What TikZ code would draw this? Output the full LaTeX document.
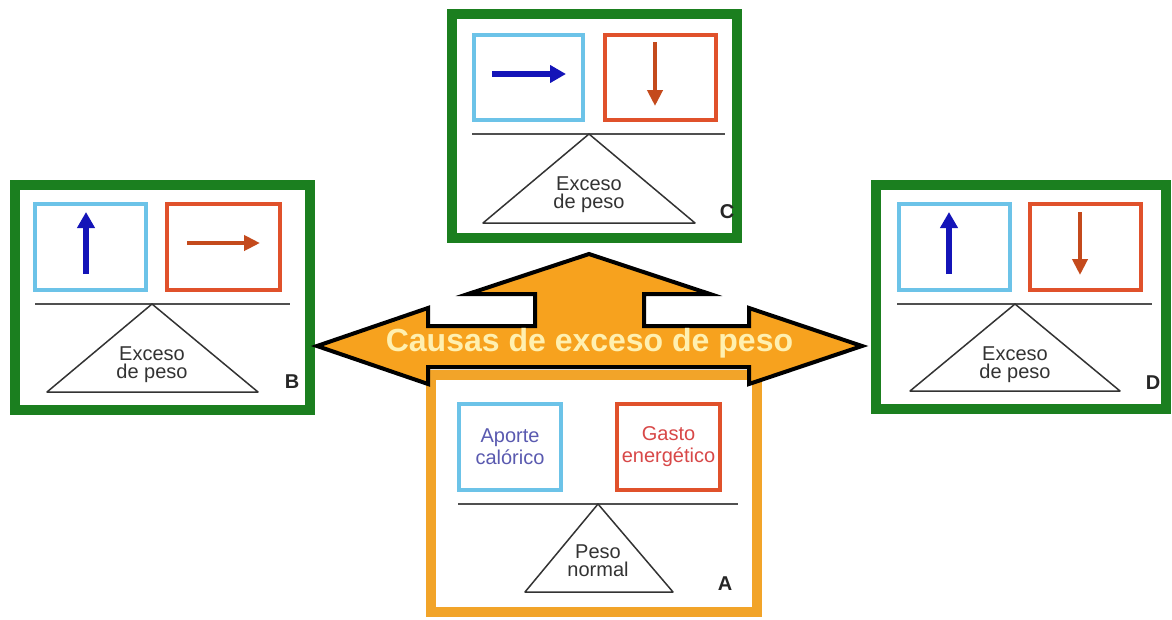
\documentclass[tikz,border=0pt]{standalone}
\usepackage{fontspec}
\setmainfont{Liberation Sans}
\usetikzlibrary{arrows.meta}
\definecolor{grn}{HTML}{1B7F1F}
\definecolor{org}{HTML}{F2A429}
\definecolor{arrorg}{HTML}{F7A21E}
\definecolor{lblue}{HTML}{6CC3E8}
\definecolor{lred}{HTML}{E0512B}
\definecolor{dblue}{HTML}{1414B8}
\definecolor{dred}{HTML}{C44A1C}
\definecolor{txtblue}{HTML}{5A5AB0}
\definecolor{txtred}{HTML}{D84848}
\definecolor{pale}{HTML}{FFF0B0}
\definecolor{beamc}{HTML}{505050}
\begin{document}
\begin{tikzpicture}[x=1pt,y=-1pt,
  frameG/.style={draw=grn,line width=10pt,inner sep=0pt,rectangle},
  frameO/.style={draw=org,line width=10pt,inner sep=0pt,rectangle},
  bluebox/.style={draw=lblue,line width=4pt,inner sep=0pt,minimum height=86pt,align=center,text=txtblue,font=\fontsize{20}{22}\selectfont},
  redbox/.style={draw=lred,line width=4pt,inner sep=0pt,minimum height=86pt,align=center,text=txtred,font=\fontsize{20}{22}\selectfont},
  beam/.style={draw=beamc,line width=1.4pt},
  fulcrum/.style={draw=black!80,line width=1.5pt,line join=round},
  fulcext/.style={align=center,text=black!80,font=\fontsize{20}{18}\selectfont,inner sep=0pt},
  lbl/.style={font=\fontsize{20}{20}\selectfont\bfseries,text=black!85,inner sep=0pt},
  blueArr/.style={draw=dblue,line width=6pt,-{Triangle[length=16pt,width=17pt]}},
  redArr/.style={draw=dred,line width=4.5pt,-{Triangle[length=16pt,width=15pt]}}
]
\useasboundingbox[fill=white] (0,0) rectangle (1172,619);

% ---------- Panel B ----------
\node[frameG,minimum width=295pt,minimum height=225pt] (fB) at (162.5,297.5) {};
\node[bluebox,minimum width=111pt] (bB) at (90.5,247) {};
\node[redbox,minimum width=113pt] (rB) at (223.5,247) {};
\coordinate (bBl) at (35,304); \coordinate (bBr) at (290,304);
\draw[beam] (bBl) -- (bBr);
\coordinate (tBa) at (152,304); \coordinate (tBl) at (47,392); \coordinate (tBr) at (258,392);
\draw[fulcrum] (tBa) -- (tBl) -- (tBr) -- cycle;
\node[fulcext] (xB) at (152,365) {Exceso\\de peso};
\node[lbl] (lB) at (292,382) {B};
\coordinate (aB1) at (86,274); \coordinate (aB2) at (86,212);
\draw[blueArr] (aB1) -- (aB2);
\coordinate (aB3) at (187,243); \coordinate (aB4) at (260,243);
\draw[redArr] (aB3) -- (aB4);

% ---------- Panel C ----------
\node[frameG,minimum width=285pt,minimum height=224pt] (fC) at (594.5,126) {};
\node[bluebox,minimum width=109pt,minimum height=85pt] (bC) at (528.5,77.5) {};
\node[redbox,minimum width=111pt,minimum height=85pt] (rC) at (660.5,77.5) {};
\coordinate (bCl) at (472,134); \coordinate (bCr) at (725,134);
\draw[beam] (bCl) -- (bCr);
\coordinate (tCa) at (589,134); \coordinate (tCl) at (483,223); \coordinate (tCr) at (695,223);
\draw[fulcrum] (tCa) -- (tCl) -- (tCr) -- cycle;
\node[fulcext] (xC) at (589,195) {Exceso\\de peso};
\node[lbl] (lC) at (727,212) {C};
\coordinate (aC1) at (492,74); \coordinate (aC2) at (566,74);
\draw[blueArr] (aC1) -- (aC2);
\coordinate (aC3) at (655,42); \coordinate (aC4) at (655,106);
\draw[redArr] (aC3) -- (aC4);

% ---------- Panel D ----------
\node[frameG,minimum width=290pt,minimum height=224pt] (fD) at (1021,297) {};
\node[bluebox,minimum width=111pt] (bD) at (954.5,247) {};
\node[redbox,minimum width=111pt] (rD) at (1085.5,247) {};
\coordinate (bDl) at (897,304); \coordinate (bDr) at (1152,304);
\draw[beam] (bDl) -- (bDr);
\coordinate (tDa) at (1015,304); \coordinate (tDl) at (910,391); \coordinate (tDr) at (1120,391);
\draw[fulcrum] (tDa) -- (tDl) -- (tDr) -- cycle;
\node[fulcext] (xD) at (1015,365) {Exceso\\de peso};
\node[lbl] (lD) at (1153,383) {D};
\coordinate (aD1) at (949,274); \coordinate (aD2) at (949,212);
\draw[blueArr] (aD1) -- (aD2);
\coordinate (aD3) at (1080,212); \coordinate (aD4) at (1080,275);
\draw[redArr] (aD3) -- (aD4);

% ---------- Panel A ----------
\node[frameO,minimum width=326pt,minimum height=237pt] (fA) at (594,493.5) {};
\node[bluebox,minimum width=102pt] (bA) at (510,447) {Aporte\\calórico};
\node[redbox,minimum width=103pt] (rA) at (668.5,447) {Gasto\\energético};
\coordinate (bAl) at (458,504); \coordinate (bAr) at (738,504);
\draw[beam] (bAl) -- (bAr);
\coordinate (tAa) at (598,504); \coordinate (tAl) at (525,592); \coordinate (tAr) at (673,592);
\draw[fulcrum] (tAa) -- (tAl) -- (tAr) -- cycle;
\node[fulcext] (xA) at (598,561) {Peso\\normal};
\node[lbl] (lA) at (725,584) {A};

% ---------- Big arrow ----------
\draw[fill=arrorg,draw=black,line width=4pt,line join=miter]
  (317,346) -- (428,308) -- (428,326) -- (535,326) -- (535,294) -- (468,294)
  -- (589,254) -- (710,294) -- (644,294) -- (644,326) -- (749,326) -- (749,308)
  -- (862,346) -- (749,384) -- (749,367) -- (428,367) -- (428,384) -- cycle;
\node[text=pale,font=\fontsize{32}{32}\selectfont\bfseries,inner sep=0pt] (title) at (589.5,343) {Causas de exceso de peso};
\end{tikzpicture}
\end{document}
